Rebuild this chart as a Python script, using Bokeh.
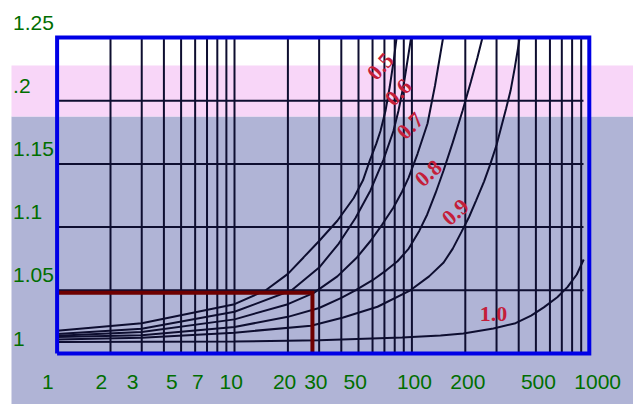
from bokeh.plotting import figure
from bokeh.models import Range1d
from bokeh.core.properties import value
from bokeh.embed import file_html
from bokeh.resources import INLINE

# ---------------- data ----------------
X_TICKS = [1, 2, 3, 5, 7, 10, 20, 30, 50, 100, 200, 500, 1000]
X_TICK_LABELS = ["1", "2", "3", "5", "7", "10", "20", "30", "50", "100", "200", "500", "1000"]
Y_TICKS = [1.0, 1.05, 1.1, 1.15, 1.2, 1.25]
Y_TICK_LABELS = ["1", "1.05", "1.1", "1.15", ".2", "1.25"]

X_GRID = [2, 3, 4, 5, 6, 7, 8, 9, 10, 20, 30, 40, 50, 60, 70, 80, 90,
          100, 200, 300, 400, 500, 600, 700, 800, 900]
Y_GRID = [1.05, 1.1, 1.15, 1.2]
X_MIN, X_MAX = 1, 1000
Y_MIN, Y_MAX = 1.0, 1.25

CURVE_LABELS = ["0.5", "0.6", "0.7", "0.8", "0.9", "1.0"]
X_05 = [1, 3, 10, 15, 20, 24.5, 30, 38, 47, 53, 58, 63, 66.5, 71, 75, 79, 82]
Y_05 = [1.018, 1.024, 1.039, 1.05, 1.063, 1.076, 1.089, 1.105, 1.123, 1.137, 1.153,
        1.166, 1.176, 1.192, 1.211, 1.232, 1.25]
X_06 = [1, 3, 10, 21, 30, 38.7, 48, 58.4, 69, 78.7, 84, 90, 96, 99]
Y_06 = [1.0155, 1.0195, 1.033, 1.05, 1.068, 1.087, 1.107, 1.129, 1.153, 1.176,
        1.192, 1.213, 1.238, 1.25]
X_07 = [1, 3, 10, 20, 28, 38, 49, 58.4, 68, 78.7, 88, 95.7, 107.6, 122.5, 135, 150]
Y_07 = [1.014, 1.017, 1.027, 1.039, 1.048, 1.061, 1.076, 1.089, 1.102, 1.1155,
        1.128, 1.139, 1.158, 1.182, 1.212, 1.25]
X_08 = [1, 3, 10, 20, 30, 40, 48, 60, 72, 83, 96, 110, 122, 136, 151, 170, 193,
        215, 234, 250]
Y_08 = [1.013, 1.0145, 1.021, 1.029, 1.036, 1.044, 1.05, 1.058, 1.066, 1.073, 1.083,
        1.097, 1.11, 1.127, 1.145, 1.167, 1.192, 1.215, 1.234, 1.25]
X_09 = [1, 3, 10, 27, 41, 64, 98, 125, 151, 170, 190, 210, 230, 255, 277, 300, 320,
        340, 360, 380, 400, 405]
Y_09 = [1.011, 1.0125, 1.0165, 1.022, 1.0285, 1.037, 1.05, 1.061, 1.072, 1.083, 1.096,
        1.108, 1.121, 1.136, 1.15, 1.165, 1.18, 1.194, 1.208, 1.226, 1.245, 1.25]
X_10 = [1, 10, 30, 88, 145, 195, 288, 384, 470, 554, 660, 753, 850, 930]
Y_10 = [1.009, 1.0095, 1.0105, 1.0127, 1.0142, 1.0158, 1.0198, 1.024, 1.030, 1.0365,
        1.0445, 1.0525, 1.0625, 1.0744]
CURVES_X = [X_05, X_06, X_07, X_08, X_09, X_10]
CURVES_Y = [Y_05, Y_06, Y_07, Y_08, Y_09, Y_10]

LABEL_X = [66.5, 84, 98, 124, 176, 288]
LABEL_Y = [1.227, 1.2065, 1.18, 1.1424, 1.1116, 1.0316]
LABEL_ANGLE = [48, 45, 45, 42, 42, 0]

READ_X = 27.5
READ_Y = 1.048

# ---------------- geometry / style ----------------
W, H = 633, 404
PAGE = 0
X0_PX, DEC_PX = 56.6, 177.4      # page x of x=1, pixels per decade
Y0_PX, YU_PX = 353.0, 1264.0     # page y of y=1, pixels per unit of y


def px_to_x(px):
    return 10 ** ((px - X0_PX) / DEC_PX)


def py_to_y(py):
    return 1 + (Y0_PX - py) / YU_PX


GRAY = "#B0B4D6"
PINK = "#F8D6F8"
INK = "#0E0E30"
BLUE = "#0000E6"
GREEN = "#006E00"
RED = "#C41E3A"
MAROON = "#6E0000"

p = figure(width=W, height=H, x_axis_type="log",
           x_range=Range1d(px_to_x(PAGE), px_to_x(PAGE + W)),
           y_range=Range1d(py_to_y(PAGE + H), py_to_y(PAGE)),
           x_axis_location=None, y_axis_location=None,
           output_backend="svg", toolbar_location=None, min_border=0)
p.background_fill_color = "white"
p.border_fill_color = "white"
p.outline_line_color = None
p.xgrid.visible = False
p.ygrid.visible = False

# background bands
xl, xr = px_to_x(11), px_to_x(PAGE + W + 5)
p.quad(left=[xl], right=[xr], bottom=[py_to_y(PAGE + H + 5)], top=[py_to_y(116)],
       fill_color=GRAY, line_color=None)
p.quad(left=[xl], right=[xr], bottom=[py_to_y(116)], top=[py_to_y(65)],
       fill_color=PINK, line_color=None)

# grid
p.segment(x0=X_GRID, y0=[Y_MIN] * len(X_GRID), x1=X_GRID, y1=[Y_MAX] * len(X_GRID),
          line_color=INK, line_width=2)
p.segment(x0=[X_MIN] * len(Y_GRID), y0=Y_GRID, x1=[px_to_x(583)] * len(Y_GRID), y1=Y_GRID,
          line_color=INK, line_width=2)

# curves
for xs, ys in zip(CURVES_X, CURVES_Y):
    p.line(xs, ys, line_color=INK, line_width=2)

# reading lines
p.line([X_MIN, READ_X, READ_X], [READ_Y, READ_Y, Y_MIN], line_color=MAROON,
       line_width=4, line_join="miter")

# frame
p.line([X_MIN, X_MAX, X_MAX, X_MIN, X_MIN], [Y_MIN, Y_MIN, Y_MAX, Y_MAX, Y_MIN],
       line_color=BLUE, line_width=4, line_join="miter")

# curve labels
for lx, ly, la, lt in zip(LABEL_X, LABEL_Y, LABEL_ANGLE, CURVE_LABELS):
    p.text(x=[lx], y=[ly], text=[lt], angle=la, angle_units="deg",
           text_font=value("Liberation Serif"), text_font_size="22px",
           text_font_style="bold", text_color=RED,
           text_align="center", text_baseline="middle")

# tick labels
p.text(x=X_TICKS, y=[Y_MIN] * len(X_TICKS), text=X_TICK_LABELS,
       x_offset=-15, y_offset=28, text_font=value("Liberation Sans"),
       text_font_size="21px", text_color=GREEN,
       text_align="left", text_baseline="middle")
p.text(x=[X_MIN] * len(Y_TICKS), y=Y_TICKS, text=Y_TICK_LABELS,
       x_offset=-44, y_offset=-15, text_font=value("Liberation Sans"),
       text_font_size="21px", text_color=GREEN,
       text_align="left", text_baseline="middle")

open("out.html", "w").write(file_html(p, INLINE))
